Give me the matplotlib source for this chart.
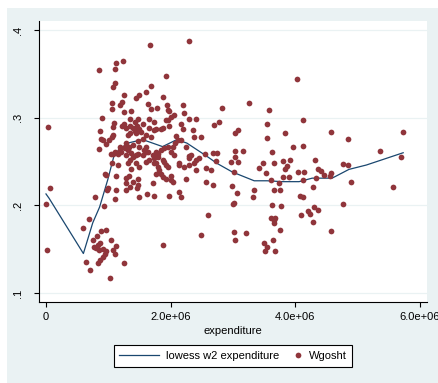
import matplotlib
matplotlib.use('Agg')
import matplotlib.pyplot as plt
from matplotlib.patches import Rectangle
from matplotlib.legend_handler import HandlerPathCollection

plt.rcParams['font.family'] = ['Liberation Sans', 'DejaVu Sans']

# Observations as (expenditure in millions, Wgosht share)
left_tail = [
    (0.03, 0.289), (0.06, 0.220), (0.00, 0.201), (0.02, 0.149), (0.60, 0.174),
    (0.64, 0.135), (0.69, 0.184), (0.70, 0.126), (0.78, 0.210), (0.98, 0.218),
    (1.00, 0.220), (0.93, 0.199), (1.10, 0.207), (0.89, 0.171), (0.97, 0.172),
    (0.82, 0.165), (0.75, 0.160), (0.77, 0.153), (0.84, 0.155), (0.86, 0.157),
    (0.81, 0.151), (0.85, 0.149), (0.92, 0.150), (0.96, 0.148), (0.94, 0.145),
    (0.91, 0.141), (0.86, 0.138), (0.83, 0.134), (1.05, 0.160), (1.13, 0.154),
    (1.07, 0.149), (1.10, 0.145), (1.25, 0.134), (1.02, 0.117),
]
core_low = [
    (0.85, 0.264), (1.06, 0.248), (1.16, 0.246), (0.94, 0.236), (0.97, 0.235),
    (1.13, 0.233), (1.28, 0.231), (1.33, 0.233), (1.29, 0.225), (1.34, 0.221),
    (1.48, 0.230), (1.71, 0.225), (1.88, 0.232), (1.92, 0.230), (2.01, 0.229),
    (2.13, 0.215), (2.17, 0.209), (1.50, 0.209), (1.62, 0.213), (1.73, 0.211),
    (1.97, 0.211), (1.87, 0.155), (1.46, 0.220), (1.13, 0.217), (1.29, 0.217),
    (1.37, 0.242), (1.45, 0.248), (1.50, 0.244), (1.40, 0.227), (1.48, 0.223),
    (1.61, 0.250), (1.74, 0.248), (1.80, 0.244), (1.77, 0.236), (1.90, 0.250),
    (1.96, 0.244), (2.01, 0.233), (2.04, 0.227), (2.14, 0.248), (2.22, 0.244),
    (2.30, 0.246), (2.38, 0.248), (2.41, 0.240),
]
core_mid = [
    (0.92, 0.275), (1.01, 0.275), (1.05, 0.259), (1.11, 0.261), (1.18, 0.263),
    (1.26, 0.267), (1.33, 0.267), (1.40, 0.269), (1.48, 0.273), (1.50, 0.267),
    (1.57, 0.263), (1.29, 0.257), (1.34, 0.252), (1.40, 0.255), (1.32, 0.248),
    (1.48, 0.259), (1.56, 0.257), (1.61, 0.261), (1.66, 0.252), (1.74, 0.254),
    (1.80, 0.259), (1.85, 0.263), (1.90, 0.265), (1.96, 0.267), (2.01, 0.261),
    (1.77, 0.248), (1.88, 0.252), (1.82, 0.240), (1.85, 0.236), (1.93, 0.246),
    (2.04, 0.267), (2.06, 0.257), (2.13, 0.246), (1.08, 0.259), (1.16, 0.259),
    (1.21, 0.261), (1.26, 0.265), (1.29, 0.271), (1.18, 0.267), (1.32, 0.263),
    (1.37, 0.260), (1.45, 0.257), (1.61, 0.267), (1.64, 0.261), (1.72, 0.257),
    (1.77, 0.261), (1.79, 0.255), (2.07, 0.271), (2.12, 0.275), (2.17, 0.275),
    (2.25, 0.267), (2.33, 0.257), (2.41, 0.252), (2.46, 0.254),
]
core_high = [
    (0.90, 0.300), (1.09, 0.294), (1.25, 0.293), (1.22, 0.290), (1.29, 0.288),
    (1.34, 0.290), (1.39, 0.288), (1.46, 0.290), (1.42, 0.285), (1.50, 0.287),
    (1.56, 0.293), (1.53, 0.284), (1.45, 0.282), (1.32, 0.280), (1.34, 0.282),
    (1.73, 0.295), (1.65, 0.288), (1.77, 0.287), (1.88, 0.288), (1.92, 0.297),
    (1.95, 0.297), (2.01, 0.301), (2.06, 0.303), (2.17, 0.293), (2.19, 0.287),
    (2.41, 0.299), (2.29, 0.298), (2.36, 0.286), (2.49, 0.278), (2.70, 0.292),
    (2.78, 0.295), (0.86, 0.285), (1.08, 0.289), (1.07, 0.280), (1.06, 0.278),
    (0.88, 0.276), (0.96, 0.270), (1.85, 0.287), (1.97, 0.290), (1.74, 0.286),
    (2.09, 0.279), (1.61, 0.280), (1.69, 0.278), (1.56, 0.276),
]
upper_tail = [
    (2.29, 0.388), (1.67, 0.383), (1.24, 0.365), (1.12, 0.362), (1.10, 0.356),
    (0.85, 0.354), (1.92, 0.348), (1.10, 0.339), (1.08, 0.335), (1.69, 0.336),
    (1.61, 0.329), (1.25, 0.326), (1.50, 0.326), (1.45, 0.323), (1.87, 0.324),
    (1.22, 0.318), (1.19, 0.315), (1.06, 0.317), (1.64, 0.316), (1.94, 0.314),
    (1.95, 0.309), (1.97, 0.308), (1.06, 0.310), (1.68, 0.310), (1.78, 0.311),
    (1.25, 0.306), (1.37, 0.308), (1.34, 0.299), (1.47, 0.299), (1.42, 0.295),
    (1.65, 0.298), (2.20, 0.315), (2.21, 0.305),
]
right_half = [
    (2.83, 0.311), (3.26, 0.317), (3.58, 0.309), (3.08, 0.286), (3.04, 0.283),
    (3.54, 0.293), (2.38, 0.278), (3.55, 0.277), (4.03, 0.344), (4.12, 0.297),
    (3.84, 0.283), (4.58, 0.284), (4.84, 0.276), (5.73, 0.284), (4.12, 0.268),
    (3.96, 0.266), (2.55, 0.259), (2.68, 0.260), (2.74, 0.260), (2.72, 0.251),
    (3.04, 0.262), (3.04, 0.255), (3.16, 0.262), (2.97, 0.249), (3.08, 0.250),
    (3.63, 0.261), (3.66, 0.248), (3.80, 0.251), (3.92, 0.252), (3.87, 0.245),
    (3.84, 0.241), (2.56, 0.243), (2.64, 0.240), (3.01, 0.238), (3.48, 0.248),
    (3.42, 0.243), (3.53, 0.237), (4.05, 0.238), (4.14, 0.238), (4.32, 0.252),
    (4.36, 0.241), (4.41, 0.239), (4.46, 0.235), (4.33, 0.231), (4.57, 0.237),
    (4.56, 0.233), (4.77, 0.247), (4.84, 0.246), (4.89, 0.227), (5.36, 0.262),
    (5.69, 0.255), (2.57, 0.227), (2.68, 0.223), (2.99, 0.222), (3.73, 0.225),
    (4.12, 0.229), (3.34, 0.218), (3.65, 0.218), (3.76, 0.218), (4.28, 0.221),
    (5.56, 0.221), (2.30, 0.256), (2.29, 0.254), (2.25, 0.230), (3.06, 0.214),
    (3.00, 0.201), (3.02, 0.203), (3.32, 0.209), (3.61, 0.229), (3.63, 0.200),
    (2.60, 0.189), (3.61, 0.185), (3.66, 0.183), (3.68, 0.186), (3.66, 0.180),
    (2.49, 0.166), (3.02, 0.169), (3.04, 0.161), (3.21, 0.168), (3.50, 0.157),
    (3.64, 0.160), (3.54, 0.153), (3.77, 0.199), (3.76, 0.172), (3.68, 0.148),
    (3.52, 0.148), (4.08, 0.211), (4.13, 0.209), (4.09, 0.189), (4.21, 0.194),
    (4.24, 0.190), (4.30, 0.198), (4.37, 0.195), (4.28, 0.181), (4.76, 0.202),
    (4.58, 0.171), (3.80, 0.232), (3.90, 0.232),
]

# lowess smooth of Wgosht on expenditure (bandwidth 0.8)
lowess_exp = [0.00, 0.05, 0.60, 0.75, 0.86, 0.99, 1.10, 1.31, 1.55, 1.87, 2.10,
              2.26, 2.58, 2.74, 2.99, 3.34, 3.55, 3.79, 4.06, 4.27, 4.59, 4.86,
              5.14, 5.73]
lowess_fit = [0.213, 0.208, 0.145, 0.180, 0.198, 0.229, 0.259, 0.271, 0.275,
              0.267, 0.275, 0.271, 0.256, 0.248, 0.238, 0.228, 0.228, 0.227,
              0.227, 0.231, 0.231, 0.241, 0.246, 0.260]

x_ticks = [0, 2e6, 4e6, 6e6]
x_tick_labels = ['0', '2.0e+06', '4.0e+06', '6.0e+06']
y_ticks = [0.1, 0.2, 0.3, 0.4]
y_tick_labels = ['.1', '.2', '.3', '.4']

MAROON = '#90353B'
NAVY = '#1A476F'
GRAPH_BG = '#EAF2F3'

points = left_tail + core_low + core_mid + core_high + upper_tail + right_half
expenditure = [p[0] * 1e6 for p in points]
wgosht = [p[1] for p in points]


class MarkerAtEnd(HandlerPathCollection):
    """Put the legend marker near the right edge of its handle box."""
    def get_xdata(self, legend, xdescent, ydescent, width, height, fontsize):
        xdata, _ = super().get_xdata(legend, xdescent, ydescent, width, height, fontsize)
        return xdata, [-xdescent + width - 3]


W, H = 438, 383
fig = plt.figure(figsize=(W / 100, H / 100), dpi=100)
fig.patch.set_facecolor('white')
fig.add_artist(Rectangle((7 / W, 0), 1, (H - 8) / H, transform=fig.transFigure,
                         facecolor=GRAPH_BG, edgecolor='none', zorder=-1))

ax = fig.add_axes([39 / W, 81 / H, 388 / W, 281 / H])
ax.set_facecolor('white')

line, = ax.plot([v * 1e6 for v in lowess_exp], lowess_fit, color=NAVY, lw=0.9,
                label='lowess w2 expenditure', zorder=2)
pts = ax.scatter(expenditure, wgosht, s=17, color=MAROON, linewidths=0,
                 label='Wgosht', zorder=3)

ax.set_xlim(-0.112e6, 6.112e6)
ax.set_ylim(0.0897, 0.4103)
ax.set_xticks(x_ticks)
ax.set_xticklabels(x_tick_labels)
ax.set_yticks(y_ticks)
ax.set_yticklabels(y_tick_labels, rotation=90, va='center')

for side in ('top', 'right'):
    ax.spines[side].set_visible(False)
for side in ('left', 'bottom'):
    ax.spines[side].set_linewidth(0.8)
    ax.spines[side].set_color('black')

ax.yaxis.grid(True, color=GRAPH_BG, lw=0.9)
ax.set_axisbelow(True)
ax.tick_params(direction='out', length=3.3, width=0.8, labelsize=8, colors='black')
ax.tick_params(axis='x', pad=4)
ax.tick_params(axis='y', pad=8)
ax.set_xlabel('expenditure', fontsize=8, labelpad=3)

leg = fig.legend(handles=[line, pts], loc='center', bbox_to_anchor=(233 / W, 27 / H),
                 ncol=2, fontsize=8, frameon=True, fancybox=False, framealpha=1,
                 edgecolor='black', handlelength=3.6, handletextpad=0.6,
                 columnspacing=-1.5, borderpad=0.5, scatterpoints=1,
                 scatteryoffsets=[0.5], handler_map={pts: MarkerAtEnd()})
leg.get_frame().set_linewidth(0.8)

fig.savefig('out.png', dpi=100, facecolor=fig.get_facecolor())
